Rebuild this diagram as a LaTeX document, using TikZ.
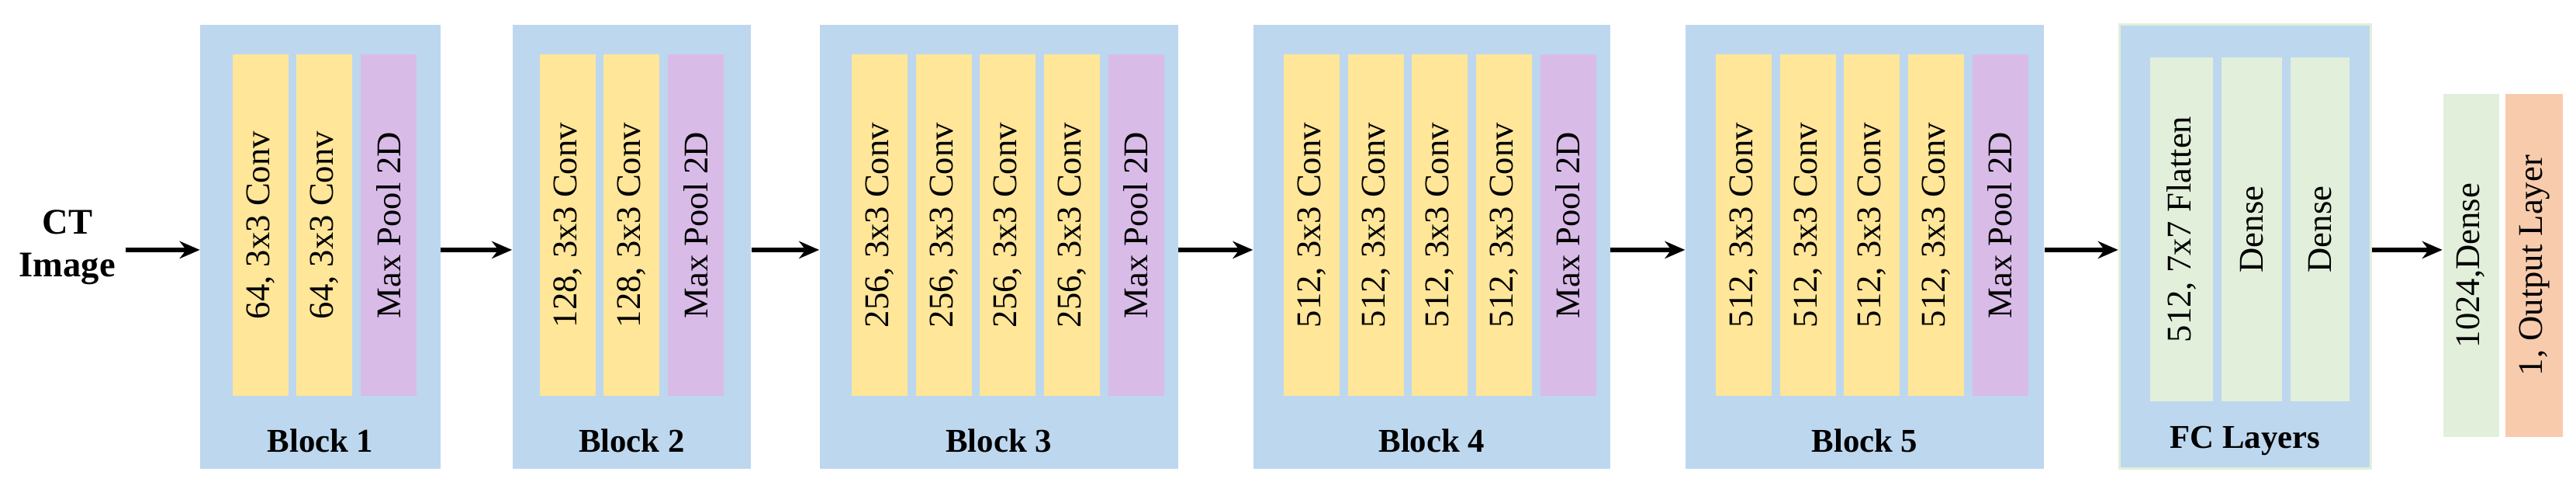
\documentclass[tikz,border=0pt]{standalone}
\usepackage{fontspec}
\setmainfont{Liberation Serif}
\usetikzlibrary{arrows.meta}
\definecolor{blockblue}{HTML}{BDD7EE}
\definecolor{convyellow}{HTML}{FFE699}
\definecolor{poolpurple}{HTML}{D9BBE8}
\definecolor{densegreen}{HTML}{E2EFDA}
\definecolor{outorange}{HTML}{F8CBAD}

\tikzset{block/.style={fill=blockblue,draw=none,minimum height=5.4cm,inner sep=0pt}}
\tikzset{layer/.style={rotate=90,minimum width=4.16cm,minimum height=0.68cm,inner sep=0pt,font=\fontsize{12}{14}\selectfont}}
\tikzset{blabel/.style={font=\fontsize{11.5}{13}\selectfont\bfseries}}
\tikzset{flow/.style={-{Stealth[length=7pt,width=6pt]},line width=1.4pt}}

\begin{document}
\begin{tikzpicture}
        \useasboundingbox (0,0) rectangle (31.36,5.94);
        % input
        \node[font=\fontsize{12.5}{15}\selectfont\bfseries,align=center] (ct) at (0.82,2.93) {CT\\Image};
        % conv blocks
        \node[block,minimum width=2.92cm] (b1) at (3.90,2.94) {};
        \node[block,minimum width=2.90cm] (b2) at (7.69,2.94) {};
        \node[block,minimum width=4.36cm] (b3) at (12.16,2.94) {};
        \node[block,minimum width=4.34cm] (b4) at (17.43,2.94) {};
        \node[block,minimum width=4.36cm] (b5) at (22.70,2.94) {};
        \node[block,minimum width=3.06cm,draw=densegreen,line width=0.8pt] (fc) at (27.33,2.94) {};
        \foreach \b/\lab in {b1/Block 1,b2/Block 2,b3/Block 3,b4/Block 4,b5/Block 5,fc/FC Layers}
            \node[blabel] at (\b |- 0,0.58) {\lab};
        % layers
        \foreach \x/\t [count=\i] in {3.17/64,3.95/64}
            \node[layer,fill=convyellow] (c1\i) at (\x,3.2) {\t, 3x3 Conv};
        \node[layer,fill=poolpurple] (p1) at (4.73,3.2) {Max Pool 2D};
        \foreach \x [count=\i] in {6.91,7.69}
            \node[layer,fill=convyellow] (c2\i) at (\x,3.2) {128, 3x3 Conv};
        \node[layer,fill=poolpurple] (p2) at (8.47,3.2) {Max Pool 2D};
        \foreach \s/\n/\k in {10.71/256/3,15.97/512/4,21.23/512/5}{
            \foreach \j in {0,1,2,3}
                \node[layer,fill=convyellow] (c\k\j) at (\s+0.78*\j,3.2) {\n, 3x3 Conv};
            \node[layer,fill=poolpurple] (p\k) at (\s+3.12,3.2) {Max Pool 2D};
        }
        % fully connected
        \node[layer,fill=densegreen,minimum height=0.76cm,minimum width=4.18cm] (f1) at (26.56,3.15) {512, 7x7 Flatten};
        \node[layer,fill=densegreen,minimum height=0.74cm,minimum width=4.18cm] (f2) at (27.41,3.15) {Dense};
        \node[layer,fill=densegreen,minimum height=0.72cm,minimum width=4.18cm] (f3) at (28.24,3.15) {Dense};
        % output
        \node[layer,fill=densegreen,minimum width=4.18cm] (d1) at (30.08,2.71) {1024,Dense};
        \node[layer,fill=outorange,minimum height=0.70cm,minimum width=4.18cm] (out) at (30.85,2.71) {1, Output Layer};
        % arrows
        \draw[flow] (ct.east |- 0,2.9) -- (b1.west |- 0,2.9);
        \foreach \a/\b in {b1/b2,b2/b3,b3/b4,b4/b5,b5/fc}
            \draw[flow] (\a.east |- 0,2.9) -- (\b.west |- 0,2.9);
        \draw[flow] (fc.east |- 0,2.9) -- (d1.north |- 0,2.9);
\end{tikzpicture}
\end{document}
